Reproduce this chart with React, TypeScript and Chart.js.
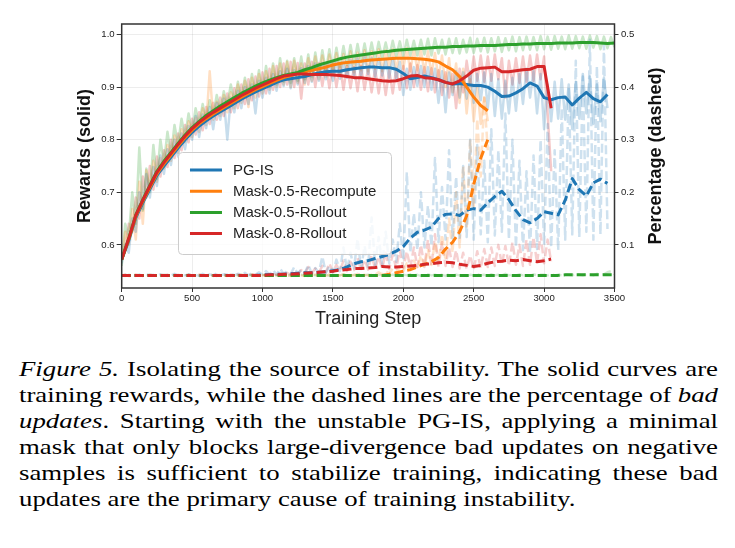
import { useEffect, useRef } from "react";
import { Chart, registerables } from "chart.js";

Chart.register(...registerables);

const SERIES_NAMES = ["PG-IS", "Mask-0.5-Recompute", "Mask-0.5-Rollout", "Mask-0.8-Rollout"];
const SERIES_COLORS = ["#1f77b4", "#ff7f0e", "#2ca02c", "#d62728"];

const STEP_TICKS = [0, 500, 1000, 1500, 2000, 2500, 3000, 3500];
const REWARD_TICKS = [0.6, 0.7, 0.8, 0.9, 1.0];
const PERCENT_TICKS = [0.1, 0.2, 0.3, 0.4, 0.5];

// training steps between consecutive logged entries
const SMOOTH_EVERY = 50;
const RAW_EVERY = 25;

// ---- smoothed rewards (every 50 steps) ----
const rewardPgIs = [
  0.572, 0.608, 0.652, 0.680, 0.706, 0.732, 0.750, 0.767, 0.784, 0.800,
  0.814, 0.826, 0.836, 0.845, 0.853, 0.861, 0.869, 0.877, 0.884, 0.891,
  0.897, 0.903, 0.909, 0.914, 0.916, 0.918, 0.920, 0.924, 0.927, 0.929,
  0.930, 0.930, 0.933, 0.935, 0.937, 0.938, 0.938, 0.937, 0.937, 0.934,
  0.926, 0.916, 0.918, 0.921, 0.918, 0.914, 0.909, 0.906, 0.907, 0.905,
  0.903, 0.903, 0.900, 0.892, 0.882, 0.883, 0.889, 0.897, 0.908, 0.902,
  0.880, 0.876, 0.880, 0.881, 0.866, 0.879, 0.890, 0.878, 0.872, 0.886,
];
const rewardRecompute = [
  0.572, 0.610, 0.654, 0.683, 0.709, 0.735, 0.754, 0.771, 0.788, 0.804,
  0.818, 0.830, 0.840, 0.849, 0.857, 0.865, 0.873, 0.881, 0.888, 0.895,
  0.901, 0.907, 0.913, 0.918, 0.922, 0.926, 0.929, 0.932, 0.935, 0.938,
  0.942, 0.945, 0.947, 0.948, 0.949, 0.951, 0.952, 0.953, 0.954, 0.955,
  0.955, 0.955, 0.954, 0.953, 0.951, 0.948, 0.940, 0.933, 0.920, 0.900,
  0.881, 0.865, 0.855,
];
const rewardRollout05 = [
  0.572, 0.612, 0.657, 0.686, 0.713, 0.740, 0.759, 0.776, 0.793, 0.809,
  0.823, 0.835, 0.846, 0.855, 0.864, 0.872, 0.880, 0.888, 0.895, 0.902,
  0.908, 0.913, 0.918, 0.922, 0.925, 0.928, 0.933, 0.937, 0.942, 0.946,
  0.950, 0.954, 0.957, 0.959, 0.961, 0.963, 0.965, 0.967, 0.968, 0.970,
  0.971, 0.972, 0.973, 0.974, 0.975, 0.976, 0.976, 0.977, 0.977, 0.978,
  0.978, 0.979, 0.979, 0.979, 0.980, 0.981, 0.981, 0.982, 0.982, 0.983,
  0.983, 0.983, 0.984, 0.984, 0.984, 0.985, 0.985, 0.985, 0.984, 0.983,
  0.984,
];
const rewardRollout08 = [
  0.572, 0.612, 0.656, 0.685, 0.712, 0.738, 0.757, 0.774, 0.791, 0.807,
  0.821, 0.833, 0.843, 0.852, 0.860, 0.868, 0.876, 0.884, 0.891, 0.898,
  0.904, 0.910, 0.916, 0.921, 0.923, 0.925, 0.925, 0.924, 0.924, 0.924,
  0.923, 0.922, 0.920, 0.918, 0.918, 0.916, 0.914, 0.912, 0.911, 0.912,
  0.916, 0.921, 0.922, 0.918, 0.917, 0.914, 0.909, 0.906, 0.912, 0.921,
  0.932, 0.936, 0.937, 0.938, 0.929, 0.929, 0.931, 0.933, 0.934, 0.939,
  0.939, 0.860,
];

// ---- smoothed share of bad updates (every 50 steps) ----
const badPgIs = [
  0.042, 0.042, 0.042, 0.042, 0.042, 0.042, 0.042, 0.042, 0.042, 0.042,
  0.042, 0.042, 0.042, 0.042, 0.042, 0.042, 0.042, 0.042, 0.042, 0.042,
  0.043, 0.043, 0.044, 0.044, 0.045, 0.046, 0.047, 0.047, 0.048, 0.049,
  0.051, 0.053, 0.058, 0.064, 0.068, 0.070, 0.074, 0.078, 0.082, 0.088,
  0.097, 0.113, 0.124, 0.128, 0.134, 0.150, 0.158, 0.159, 0.156, 0.166,
  0.169, 0.166, 0.180, 0.192, 0.202, 0.186, 0.165, 0.148, 0.142, 0.150,
  0.163, 0.160, 0.157, 0.185, 0.226, 0.205, 0.193, 0.218, 0.225, 0.217,
];
const badRecompute = [
  0.042, 0.042, 0.042, 0.042, 0.042, 0.042, 0.042, 0.042, 0.042, 0.042,
  0.042, 0.042, 0.042, 0.042, 0.042, 0.042, 0.042, 0.042, 0.042, 0.042,
  0.042, 0.042, 0.042, 0.042, 0.042, 0.042, 0.042, 0.042, 0.042, 0.042,
  0.042, 0.042, 0.042, 0.042, 0.042, 0.042, 0.042, 0.042, 0.044, 0.047,
  0.050, 0.053, 0.058, 0.063, 0.068, 0.076, 0.092, 0.105, 0.125, 0.155,
  0.215, 0.265, 0.300,
];
const badRollout05 = [
  0.042, 0.042, 0.042, 0.042, 0.042, 0.042, 0.042, 0.042, 0.042, 0.042,
  0.042, 0.042, 0.042, 0.042, 0.042, 0.042, 0.042, 0.042, 0.042, 0.042,
  0.042, 0.042, 0.042, 0.042, 0.042, 0.042, 0.042, 0.042, 0.042, 0.042,
  0.042, 0.042, 0.042, 0.042, 0.042, 0.042, 0.042, 0.042, 0.042, 0.042,
  0.042, 0.042, 0.042, 0.042, 0.042, 0.042, 0.042, 0.042, 0.042, 0.042,
  0.042, 0.042, 0.042, 0.042, 0.042, 0.042, 0.042, 0.042, 0.042, 0.042,
  0.042, 0.042, 0.042, 0.043, 0.043, 0.043, 0.043, 0.043, 0.043, 0.043,
  0.043,
];
const badRollout08 = [
  0.042, 0.042, 0.042, 0.042, 0.042, 0.042, 0.042, 0.042, 0.042, 0.042,
  0.042, 0.042, 0.042, 0.042, 0.042, 0.042, 0.042, 0.042, 0.042, 0.042,
  0.042, 0.043, 0.043, 0.044, 0.044, 0.045, 0.046, 0.047, 0.048, 0.049,
  0.050, 0.052, 0.053, 0.055, 0.055, 0.056, 0.057, 0.059, 0.058, 0.058,
  0.059, 0.060, 0.061, 0.063, 0.064, 0.066, 0.067, 0.066, 0.063, 0.061,
  0.059, 0.061, 0.065, 0.068, 0.069, 0.071, 0.070, 0.072, 0.070, 0.068,
  0.070, 0.073,
];

// ---- raw per-step rewards (every 25 steps) ----
const rewardRawPgIs = [
  0.565, 0.600, 0.585, 0.650, 0.625, 0.700, 0.668, 0.735, 0.690, 0.748,
  0.712, 0.770, 0.735, 0.782, 0.752, 0.800, 0.768, 0.812, 0.782, 0.826,
  0.800, 0.845, 0.805, 0.848, 0.822, 0.862, 0.820, 0.870, 0.838, 0.878,
  0.800, 0.880, 0.852, 0.893, 0.860, 0.900, 0.868, 0.905, 0.850, 0.912,
  0.880, 0.918, 0.888, 0.925, 0.893, 0.930, 0.902, 0.935, 0.898, 0.932,
  0.905, 0.936, 0.908, 0.940, 0.910, 0.945, 0.912, 0.946, 0.915, 0.948,
  0.912, 0.950, 0.916, 0.948, 0.918, 0.952, 0.922, 0.955, 0.920, 0.958,
  0.925, 0.956, 0.920, 0.955, 0.922, 0.952, 0.918, 0.956, 0.915, 0.948,
  0.885, 0.935, 0.895, 0.938, 0.902, 0.940, 0.900, 0.938, 0.895, 0.935,
  0.870, 0.930, 0.852, 0.928, 0.885, 0.930, 0.880, 0.928, 0.878, 0.930,
  0.870, 0.925, 0.875, 0.928, 0.860, 0.925, 0.845, 0.915, 0.840, 0.912,
  0.850, 0.918, 0.855, 0.925, 0.868, 0.935, 0.880, 0.930, 0.850, 0.925,
  0.820, 0.905, 0.835, 0.910, 0.840, 0.915, 0.838, 0.905, 0.820, 0.910,
  0.840, 0.925, 0.850, 0.920, 0.830, 0.905, 0.835, 0.918, 0.860,
];
const rewardRawRecompute = [
  0.570, 0.625, 0.600, 0.668, 0.610, 0.720, 0.640, 0.742, 0.705, 0.760,
  0.720, 0.765, 0.745, 0.790, 0.760, 0.808, 0.775, 0.820, 0.795, 0.835,
  0.805, 0.842, 0.815, 0.860, 0.828, 0.930, 0.838, 0.872, 0.845, 0.885,
  0.852, 0.890, 0.860, 0.905, 0.870, 0.912, 0.862, 0.918, 0.880, 0.925,
  0.888, 0.930, 0.895, 0.940, 0.900, 0.945, 0.905, 0.948, 0.900, 0.950,
  0.908, 0.945, 0.905, 0.955, 0.912, 0.958, 0.915, 0.960, 0.920, 0.962,
  0.925, 0.965, 0.925, 0.963, 0.930, 0.968, 0.928, 0.966, 0.932, 0.970,
  0.930, 0.968, 0.935, 0.972, 0.930, 0.970, 0.936, 0.972, 0.932, 0.970,
  0.935, 0.974, 0.930, 0.972, 0.932, 0.970, 0.928, 0.968, 0.925, 0.965,
  0.915, 0.960, 0.900, 0.955, 0.890, 0.945, 0.870, 0.935, 0.850, 0.915,
  0.835, 0.900, 0.830, 0.880, 0.835,
];
const rewardRawRollout05 = [
  0.560, 0.640, 0.615, 0.700, 0.640, 0.785, 0.665, 0.745, 0.700, 0.790,
  0.725, 0.800, 0.755, 0.815, 0.770, 0.828, 0.790, 0.840, 0.805, 0.850,
  0.815, 0.860, 0.828, 0.868, 0.838, 0.875, 0.845, 0.885, 0.855, 0.892,
  0.865, 0.905, 0.872, 0.910, 0.878, 0.918, 0.885, 0.925, 0.890, 0.932,
  0.895, 0.940, 0.900, 0.945, 0.905, 0.955, 0.910, 0.950, 0.908, 0.955,
  0.912, 0.958, 0.915, 0.962, 0.920, 0.966, 0.925, 0.970, 0.930, 0.972,
  0.935, 0.975, 0.938, 0.978, 0.942, 0.980, 0.945, 0.982, 0.948, 0.983,
  0.950, 0.985, 0.952, 0.986, 0.955, 0.985, 0.956, 0.988, 0.958, 0.987,
  0.958, 0.990, 0.960, 0.988, 0.960, 0.990, 0.962, 0.992, 0.960, 0.993,
  0.964, 0.990, 0.962, 0.992, 0.965, 0.993, 0.964, 0.990, 0.966, 0.994,
  0.965, 0.992, 0.968, 0.994, 0.966, 0.993, 0.968, 0.995, 0.967, 0.993,
  0.970, 0.996, 0.968, 0.995, 0.970, 0.996, 0.971, 0.995, 0.970, 0.997,
  0.972, 0.996, 0.971, 0.997, 0.973, 0.996, 0.972, 0.998, 0.973, 0.997,
  0.974, 0.996, 0.973, 0.998, 0.975, 0.997, 0.972, 0.996, 0.974, 0.995,
  0.976,
];
const rewardRawRollout08 = [
  0.575, 0.590, 0.640, 0.625, 0.690, 0.650, 0.730, 0.690, 0.750, 0.705,
  0.768, 0.730, 0.780, 0.748, 0.800, 0.765, 0.812, 0.780, 0.828, 0.795,
  0.840, 0.810, 0.852, 0.818, 0.862, 0.830, 0.870, 0.838, 0.880, 0.845,
  0.888, 0.852, 0.898, 0.860, 0.905, 0.868, 0.915, 0.875, 0.920, 0.882,
  0.928, 0.888, 0.935, 0.895, 0.940, 0.900, 0.945, 0.905, 0.948, 0.900,
  0.946, 0.878, 0.945, 0.905, 0.948, 0.900, 0.946, 0.902, 0.944, 0.898,
  0.945, 0.900, 0.942, 0.895, 0.940, 0.898, 0.938, 0.892, 0.940, 0.895,
  0.936, 0.890, 0.935, 0.888, 0.934, 0.885, 0.932, 0.888, 0.935, 0.895,
  0.940, 0.898, 0.945, 0.900, 0.942, 0.895, 0.938, 0.892, 0.936, 0.890,
  0.932, 0.885, 0.928, 0.880, 0.925, 0.860, 0.935, 0.890, 0.950, 0.905,
  0.958, 0.912, 0.960, 0.910, 0.958, 0.912, 0.962, 0.915, 0.955, 0.880,
  0.950, 0.905, 0.955, 0.908, 0.958, 0.910, 0.960, 0.912, 0.962, 0.915,
  0.958, 0.850, 0.740,
];

// ---- raw share of bad updates (every 25 steps) ----
const badRawPgIs = [
  0.041, 0.043, 0.042, 0.044, 0.041, 0.043, 0.042, 0.044, 0.042, 0.043,
  0.041, 0.044, 0.042, 0.043, 0.042, 0.045, 0.041, 0.043, 0.042, 0.044,
  0.042, 0.043, 0.041, 0.045, 0.042, 0.044, 0.042, 0.046, 0.042, 0.044,
  0.043, 0.046, 0.042, 0.045, 0.043, 0.047, 0.042, 0.046, 0.043, 0.048,
  0.043, 0.050, 0.044, 0.052, 0.043, 0.055, 0.045, 0.050, 0.044, 0.058,
  0.045, 0.053, 0.046, 0.062, 0.045, 0.056, 0.047, 0.078, 0.046, 0.060,
  0.048, 0.072, 0.050, 0.095, 0.052, 0.085, 0.055, 0.112, 0.054, 0.098,
  0.058, 0.152, 0.060, 0.115, 0.062, 0.125, 0.065, 0.110, 0.068, 0.140,
  0.070, 0.238, 0.085, 0.160, 0.090, 0.200, 0.095, 0.175, 0.098, 0.265,
  0.105, 0.210, 0.110, 0.280, 0.112, 0.230, 0.108, 0.250, 0.115, 0.300,
  0.110, 0.290, 0.120, 0.260, 0.105, 0.320, 0.118, 0.280, 0.125, 0.350,
  0.110, 0.300, 0.095, 0.260, 0.090, 0.240, 0.085, 0.270, 0.092, 0.300,
  0.100, 0.330, 0.095, 0.280, 0.090, 0.360, 0.110, 0.400, 0.120, 0.450,
  0.115, 0.420, 0.125, 0.490, 0.110, 0.440, 0.120, 0.480, 0.130,
];
const badRawRecompute = [
  0.042, 0.043, 0.041, 0.042, 0.043, 0.042, 0.041, 0.043, 0.042, 0.042,
  0.043, 0.041, 0.042, 0.043, 0.042, 0.042, 0.041, 0.043, 0.042, 0.043,
  0.042, 0.041, 0.043, 0.042, 0.042, 0.043, 0.041, 0.042, 0.043, 0.042,
  0.041, 0.043, 0.042, 0.042, 0.043, 0.041, 0.042, 0.043, 0.042, 0.041,
  0.042, 0.043, 0.042, 0.041, 0.043, 0.042, 0.042, 0.043, 0.041, 0.042,
  0.043, 0.042, 0.041, 0.043, 0.042, 0.044, 0.042, 0.043, 0.041, 0.044,
  0.042, 0.043, 0.042, 0.044, 0.041, 0.043, 0.042, 0.045, 0.042, 0.043,
  0.042, 0.043, 0.043, 0.048, 0.044, 0.050, 0.046, 0.055, 0.048, 0.058,
  0.050, 0.065, 0.052, 0.070, 0.055, 0.080, 0.058, 0.090, 0.062, 0.105,
  0.065, 0.120, 0.070, 0.150, 0.085, 0.200, 0.095, 0.250, 0.130, 0.300,
  0.170, 0.340, 0.230, 0.380, 0.280,
];
const badRawRollout05 = [
  0.042, 0.041, 0.043, 0.042, 0.042, 0.043, 0.041, 0.042, 0.043, 0.042,
  0.041, 0.042, 0.043, 0.042, 0.041, 0.043, 0.042, 0.042, 0.041, 0.043,
  0.042, 0.043, 0.041, 0.042, 0.042, 0.043, 0.042, 0.041, 0.043, 0.042,
  0.042, 0.041, 0.043, 0.042, 0.043, 0.042, 0.041, 0.043, 0.042, 0.042,
  0.043, 0.042, 0.041, 0.043, 0.042, 0.042, 0.043, 0.041, 0.042, 0.043,
  0.042, 0.043, 0.042, 0.041, 0.043, 0.042, 0.044, 0.042, 0.043, 0.041,
  0.042, 0.043, 0.042, 0.044, 0.042, 0.041, 0.043, 0.042, 0.044, 0.042,
  0.043, 0.042, 0.041, 0.043, 0.042, 0.044, 0.042, 0.043, 0.042, 0.041,
  0.043, 0.042, 0.044, 0.042, 0.043, 0.041, 0.042, 0.044, 0.042, 0.043,
  0.042, 0.043, 0.041, 0.044, 0.042, 0.043, 0.042, 0.044, 0.041, 0.043,
  0.042, 0.044, 0.042, 0.043, 0.041, 0.044, 0.042, 0.043, 0.042, 0.045,
  0.042, 0.043, 0.042, 0.044, 0.042, 0.043, 0.041, 0.044, 0.042, 0.043,
  0.043, 0.042, 0.044, 0.042, 0.043, 0.042, 0.044, 0.043, 0.042, 0.046,
  0.043, 0.042, 0.044, 0.043, 0.042, 0.045, 0.043, 0.044, 0.048, 0.050,
  0.044,
];
const badRawRollout08 = [
  0.042, 0.043, 0.041, 0.042, 0.043, 0.042, 0.042, 0.041, 0.043, 0.042,
  0.042, 0.043, 0.042, 0.041, 0.043, 0.042, 0.043, 0.042, 0.041, 0.043,
  0.042, 0.042, 0.043, 0.042, 0.041, 0.043, 0.042, 0.043, 0.042, 0.044,
  0.042, 0.043, 0.042, 0.044, 0.042, 0.043, 0.042, 0.044, 0.043, 0.045,
  0.042, 0.044, 0.042, 0.045, 0.043, 0.046, 0.043, 0.047, 0.043, 0.050,
  0.044, 0.052, 0.045, 0.058, 0.046, 0.055, 0.047, 0.060, 0.048, 0.065,
  0.048, 0.062, 0.050, 0.070, 0.050, 0.068, 0.052, 0.075, 0.052, 0.072,
  0.053, 0.080, 0.054, 0.078, 0.055, 0.085, 0.054, 0.082, 0.055, 0.090,
  0.056, 0.088, 0.057, 0.095, 0.058, 0.100, 0.058, 0.110, 0.060, 0.120,
  0.058, 0.105, 0.060, 0.095, 0.058, 0.090, 0.055, 0.085, 0.054, 0.080,
  0.053, 0.088, 0.055, 0.092, 0.058, 0.095, 0.060, 0.100, 0.062, 0.098,
  0.060, 0.105, 0.062, 0.100, 0.060, 0.110, 0.062, 0.115, 0.064, 0.120,
  0.065, 0.110, 0.068,
];

const REWARD_SMOOTH = [rewardPgIs, rewardRecompute, rewardRollout05, rewardRollout08];
const REWARD_RAW = [rewardRawPgIs, rewardRawRecompute, rewardRawRollout05, rewardRawRollout08];
const BAD_SMOOTH = [badPgIs, badRecompute, badRollout05, badRollout08];
const BAD_RAW = [badRawPgIs, badRawRecompute, badRawRollout05, badRawRollout08];

const REWARD_RANGE = [0.518, 1.02];
const PERCENT_RANGE = [0.018, 0.52];

const SANS = '"Liberation Sans", Arial, Helvetica, sans-serif';
const SERIF = '"Liberation Serif", "Times New Roman", Times, serif';

const toPoints = (vals: number[], every: number) =>
  vals.map((y, i) => ({ x: i * every, y }));

const fade = (hex: string, alpha: number) => {
  const n = parseInt(hex.slice(1), 16);
  return `rgba(${(n >> 16) & 255},${(n >> 8) & 255},${n & 255},${alpha})`;
};

// thin dark box around the plotting area
const framePlugin = {
  id: "frame",
  afterDatasetsDraw(chart: any) {
    const { ctx, chartArea: a } = chart;
    ctx.save();
    ctx.strokeStyle = "#333333";
    ctx.lineWidth = 1.5;
    ctx.strokeRect(a.left, a.top, a.right - a.left, a.bottom - a.top);
    ctx.restore();
  },
};

// right-hand axis title, reading bottom to top
const rightTitlePlugin = {
  id: "rightTitle",
  afterDraw(chart: any) {
    const { ctx, chartArea: a } = chart;
    ctx.save();
    ctx.translate(656, (a.top + a.bottom) / 2);
    ctx.rotate(-Math.PI / 2);
    ctx.font = `bold 18px ${SANS}`;
    ctx.fillStyle = "#111111";
    ctx.textAlign = "center";
    ctx.textBaseline = "middle";
    ctx.fillText("Percentage (dashed)", 0, 0);
    ctx.restore();
  },
};

// legend drawn inside the plotting area
const insetLegendPlugin = {
  id: "insetLegend",
  afterDatasetsDraw(chart: any) {
    const { ctx, chartArea: a } = chart;
    const x = a.left + 0.1142 * (a.right - a.left);
    const y = a.top + 0.4848 * (a.bottom - a.top);
    const w = 213;
    const h = 102;
    ctx.save();
    ctx.beginPath();
    ctx.roundRect(x + 0.5, y + 0.5, w, h, 4);
    ctx.fillStyle = "rgba(255,255,255,0.8)";
    ctx.fill();
    ctx.strokeStyle = "#cccccc";
    ctx.lineWidth = 1;
    ctx.stroke();
    ctx.font = `15px ${SANS}`;
    ctx.textBaseline = "middle";
    SERIES_NAMES.forEach((name, i) => {
      const cy = y + 18 + i * 21.2;
      ctx.beginPath();
      ctx.moveTo(x + 12, cy);
      ctx.lineTo(x + 44, cy);
      ctx.strokeStyle = SERIES_COLORS[i];
      ctx.lineWidth = 3;
      ctx.stroke();
      ctx.fillStyle = "#222222";
      ctx.fillText(name, x + 55, cy + 0.5);
    });
    ctx.restore();
  },
};

function RewardChart() {
  const canvasRef = useRef<HTMLCanvasElement | null>(null);

  useEffect(() => {
    if (!canvasRef.current) return;
    const common = {
      pointRadius: 0,
      fill: false,
      tension: 0,
      borderJoinStyle: "round",
      borderCapStyle: "butt",
    };
    const datasets: any[] = [];
    SERIES_NAMES.forEach((name, i) => {
      const c = SERIES_COLORS[i];
      datasets.push({
        ...common,
        label: `${name} raw reward`,
        data: toPoints(REWARD_RAW[i], RAW_EVERY),
        yAxisID: "y",
        borderColor: fade(c, 0.25),
        borderWidth: 2.5,
        order: 40 + i,
      });
      datasets.push({
        ...common,
        label: `${name} raw bad updates`,
        data: toPoints(BAD_RAW[i], RAW_EVERY),
        yAxisID: "y2",
        borderColor: fade(c, 0.22),
        borderWidth: 2.5,
        borderDash: [9, 4],
        order: 30 + i,
      });
      datasets.push({
        ...common,
        label: `${name} bad updates`,
        data: toPoints(BAD_SMOOTH[i], SMOOTH_EVERY),
        yAxisID: "y2",
        borderColor: c,
        borderWidth: 3,
        borderDash: [9, 4],
        order: 20 - i,
      });
      datasets.push({
        ...common,
        label: name,
        data: toPoints(REWARD_SMOOTH[i], SMOOTH_EVERY),
        yAxisID: "y",
        borderColor: c,
        borderWidth: 3,
        order: 10 - i,
      });
    });

    const tickFont = { family: SANS, size: 9.6 };
    const gridColor = "rgba(0,0,0,0.09)";

    const chart = new Chart(canvasRef.current, {
      type: "line",
      data: { datasets },
      plugins: [framePlugin, insetLegendPlugin, rightTitlePlugin],
      options: {
        animation: false,
        responsive: false,
        events: [],
        layout: { padding: { top: 24, left: 0, right: 0, bottom: 0 } },
        plugins: { legend: { display: false }, tooltip: { enabled: false } },
        scales: {
          x: {
            type: "linear",
            min: STEP_TICKS[0],
            max: STEP_TICKS[STEP_TICKS.length - 1],
            afterBuildTicks: (s: any) => {
              s.ticks = STEP_TICKS.map((v) => ({ value: v }));
            },
            afterFit: (s: any) => {
              s.height = 47;
            },
            border: { display: false },
            grid: { color: gridColor, lineWidth: 0.8, tickColor: "#333333", tickLength: 4, tickWidth: 1 },
            ticks: {
              padding: 1,
              color: "#222222",
              font: tickFont,
              maxRotation: 0,
              autoSkip: false,
              callback: (v: any) => String(v),
            },
            title: {
              display: true,
              text: "Training Step",
              color: "#222222",
              font: { family: SANS, size: 18 },
              padding: { top: 0, bottom: 5.2 },
            },
          },
          y: {
            type: "linear",
            position: "left",
            min: REWARD_RANGE[0],
            max: REWARD_RANGE[1],
            afterBuildTicks: (s: any) => {
              s.ticks = REWARD_TICKS.map((v) => ({ value: v }));
            },
            afterFit: (s: any) => {
              s.width = 121.7;
            },
            border: { display: false },
            grid: { color: gridColor, lineWidth: 0.8, tickColor: "#333333", tickLength: 5, tickWidth: 1 },
            ticks: {
              padding: 2,
              color: "#222222",
              font: tickFont,
              callback: (v: any) => Number(v).toFixed(1),
            },
            title: {
              display: true,
              text: "Rewards (solid)",
              color: "#111111",
              font: { family: SANS, size: 18, weight: "bold" },
              padding: { top: 74.2, bottom: 0 },
            },
          },
          y2: {
            type: "linear",
            position: "right",
            min: PERCENT_RANGE[0],
            max: PERCENT_RANGE[1],
            afterBuildTicks: (s: any) => {
              s.ticks = PERCENT_TICKS.map((v) => ({ value: v }));
            },
            afterFit: (s: any) => {
              s.width = 735 - 614.5;
            },
            border: { display: false },
            grid: { drawOnChartArea: false, tickColor: "#333333", tickLength: 4, tickWidth: 1 },
            ticks: {
              padding: 2.5,
              color: "#222222",
              font: tickFont,
              callback: (v: any) => Number(v).toFixed(1),
            },
          },
        },
      } as any,
    });
    return () => chart.destroy();
  }, []);

  return <canvas ref={canvasRef} width={735} height={335} style={{ display: "block" }} />;
}

const lineStyle: any = {
  textAlign: "justify",
  textAlignLast: "justify",
  height: 32.5,
};

export default function App() {
  return (
    <div style={{ position: "absolute", left: 0, top: 0, width: 735, height: 548, background: "#ffffff", overflow: "hidden" }}>
      <RewardChart />
      <div
        style={{
          position: "absolute",
          left: 19,
          top: 356.4,
          width: 699,
          fontFamily: SERIF,
          fontSize: 26.8,
          lineHeight: "32.5px",
          color: "#000000",
          transform: "scaleY(0.8)",
          transformOrigin: "top left",
        }}
      >
        <div style={lineStyle}>
          <i>Figure 5.</i> Isolating the source of instability. The solid curves are
        </div>
        <div style={{ ...lineStyle, wordSpacing: "-2px" }}>
          training rewards, while the dashed lines are the percentage of <i>bad</i>
        </div>
        <div style={lineStyle}>
          <i>updates</i>. Starting with the unstable PG-IS, applying a minimal
        </div>
        <div style={lineStyle}>
          mask that only blocks large-divergence bad updates on negative
        </div>
        <div style={lineStyle}>
          samples is sufficient to stabilize training, indicating these bad
        </div>
        <div style={{ ...lineStyle, textAlignLast: "left" }}>
          updates are the primary cause of training instability.
        </div>
      </div>
    </div>
  );
}
